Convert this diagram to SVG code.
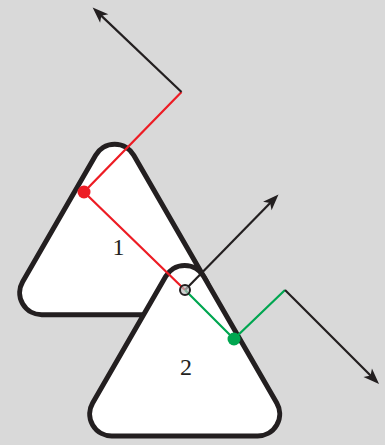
<svg xmlns="http://www.w3.org/2000/svg" width="385" height="445" viewBox="0 0 385 445">
  <style>
    .tri { fill: #ffffff; stroke: #231f20; stroke-width: 5; stroke-linejoin: round; }
    .lbl { font-family: "Liberation Serif", "DejaVu Serif", serif; font-size: 24px; fill: #231f20; text-anchor: middle; }
    .blk { stroke: #231f20; stroke-width: 2.2; fill: none; }
    .red { stroke: #ed1c24; stroke-width: 2.2; fill: none; }
    .grn { stroke: #00a650; stroke-width: 2.2; fill: none; }
  </style>
  <defs>
    <path id="rtri" d="M 165.65 276.5 A 22 22 0 0 1 203.75 276.5 L 276.75 402.94 A 22 22 0 0 1 257.7 435.94 L 111.7 435.94 A 22 22 0 0 1 92.65 402.94 Z"/>
    <marker id="arr" markerUnits="userSpaceOnUse" markerWidth="24" markerHeight="24" viewBox="-12 -12 24 24" refX="0" refY="0" orient="auto">
      <path d="M 6 0 L -10 -6 L -6 0 L -10 6 Z" fill="#231f20"/>
    </marker>
  </defs>
  <rect x="0" y="0" width="385" height="445" fill="#d9d9d9"/>
  <g id="node1">
    <use href="#rtri" class="tri" transform="translate(-70,-121.24)"/>
    <text class="lbl" x="118.5" y="255">1</text>
  </g>
  <g id="node2">
    <use href="#rtri" class="tri"/>
    <text class="lbl" x="186" y="375">2</text>
  </g>
  <g id="connectors">
    <polyline class="red" points="185,290 84,192 181.5,92"/>
    <line class="blk" x1="181.5" y1="92" x2="97" y2="11.6" marker-end="url(#arr)"/>
    <line class="blk" x1="185" y1="290" x2="274.3" y2="198.8" marker-end="url(#arr)"/>
    <polyline class="grn" points="185,290 234,339 285,290"/>
    <line class="blk" x1="285" y1="290" x2="374.8" y2="379.8" marker-end="url(#arr)"/>
    <circle cx="84" cy="192" r="6.5" fill="#ed1c24"/>
    <circle cx="234" cy="339" r="6.5" fill="#00a650"/>
    <circle cx="185" cy="290" r="5" fill="#bdbdbd" fill-opacity="0.7" stroke="#231f20" stroke-width="2"/>
  </g>
</svg>
